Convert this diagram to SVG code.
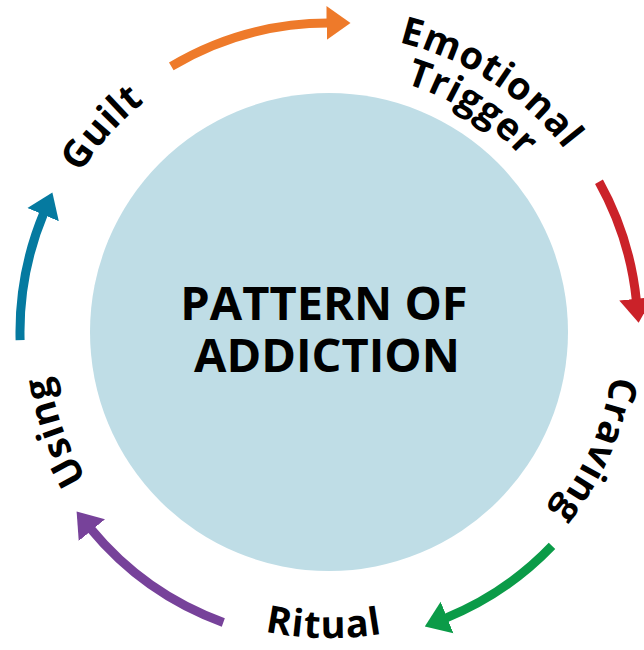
<svg xmlns="http://www.w3.org/2000/svg" width="644" height="650" viewBox="0 0 644 650">
<style>
.lbl{font-family:"Open Sans","Noto Sans",sans-serif;font-weight:700;font-size:38px;letter-spacing:1px;fill:#000}
.ctr{font-family:"Open Sans","Noto Sans",sans-serif;font-weight:700;font-size:47px;fill:#000;text-anchor:middle}
.arc{fill:none;stroke-width:9}
</style>
<defs>
<marker id="hO" markerUnits="userSpaceOnUse" markerWidth="30" markerHeight="40" refX="2" refY="0" viewBox="0 -20 30 40" orient="auto"><path d="M0,-17 L24,0 L0,17 z" fill="#ee7a2a"/></marker>
<marker id="hR" markerUnits="userSpaceOnUse" markerWidth="30" markerHeight="40" refX="2" refY="0" viewBox="0 -20 30 40" orient="auto"><path d="M0,-17 L24,0 L0,17 z" fill="#cb2229"/></marker>
<marker id="hG" markerUnits="userSpaceOnUse" markerWidth="30" markerHeight="40" refX="2" refY="0" viewBox="0 -20 30 40" orient="auto"><path d="M0,-17 L24,0 L0,17 z" fill="#0b9b48"/></marker>
<marker id="hP" markerUnits="userSpaceOnUse" markerWidth="30" markerHeight="40" refX="2" refY="0" viewBox="0 -20 30 40" orient="auto"><path d="M0,-17 L24,0 L0,17 z" fill="#77429a"/></marker>
<marker id="hT" markerUnits="userSpaceOnUse" markerWidth="30" markerHeight="40" refX="2" refY="0" viewBox="0 -20 30 40" orient="auto"><path d="M0,-17 L24,0 L0,17 z" fill="#057aa0"/></marker>
<path id="pGuilt" d="M48.4,423.2 A295,295 0 0 1 390.3,43.5"/>
<path id="pUsing" d="M279.9,610.7 A283,283 0 0 1 112.2,150.1"/>
<path id="pCraving" d="M560.4,163.9 A286,286 0 0 1 358.9,616.4"/>
<path id="pEmo" d="M193.7,66.5 A298,298 0 0 1 626.6,347.6"/>
<path id="pTrig" d="M209.0,101.4 A260,260 0 0 1 588.8,343.3"/>
<path id="pRitual" d="M61.4,480.8 A306,306 0 0 0 591.3,489.6"/>
</defs>
<rect width="644" height="650" fill="#fff"/>
<g id="center">
<circle cx="329" cy="332" r="239" fill="#bfdde6"/>
<text class="ctr" x="324" y="320">PATTERN OF</text>
<text class="ctr" x="327" y="372">ADDICTION</text>
</g>
<g id="connectors">
<path class="arc" stroke="#ee7a2a" d="M171.3,66.3 A309,309 0 0 1 328.5,23" marker-end="url(#hO)"/>
<path class="arc" stroke="#cb2229" d="M599,181.7 A309,309 0 0 1 636.4,300.8" marker-end="url(#hR)"/>
<path class="arc" stroke="#0b9b48" d="M552,545.9 A309,309 0 0 1 445.2,618.3" marker-end="url(#hG)"/>
<path class="arc" stroke="#77429a" d="M223.3,622.4 A309,309 0 0 1 90.6,528.6" marker-end="url(#hP)"/>
<path class="arc" stroke="#057aa0" d="M20.1,340.1 A309,309 0 0 1 43.9,212.8" marker-end="url(#hT)"/>
</g>
<g id="emotional-trigger">
<text class="lbl"><textPath href="#pEmo" startOffset="50%" text-anchor="middle">Emotional</textPath></text>
<text class="lbl"><textPath href="#pTrig" startOffset="50%" text-anchor="middle">Trigger</textPath></text>
</g>
<g id="craving"><text class="lbl"><textPath href="#pCraving" startOffset="50%" text-anchor="middle">Craving</textPath></text></g>
<g id="ritual"><text class="lbl"><textPath href="#pRitual" startOffset="50%" text-anchor="middle">Ritual</textPath></text></g>
<g id="using"><text class="lbl"><textPath href="#pUsing" startOffset="50%" text-anchor="middle">Using</textPath></text></g>
<g id="guilt"><text class="lbl"><textPath href="#pGuilt" startOffset="50%" text-anchor="middle">Guilt</textPath></text></g>
</svg>
